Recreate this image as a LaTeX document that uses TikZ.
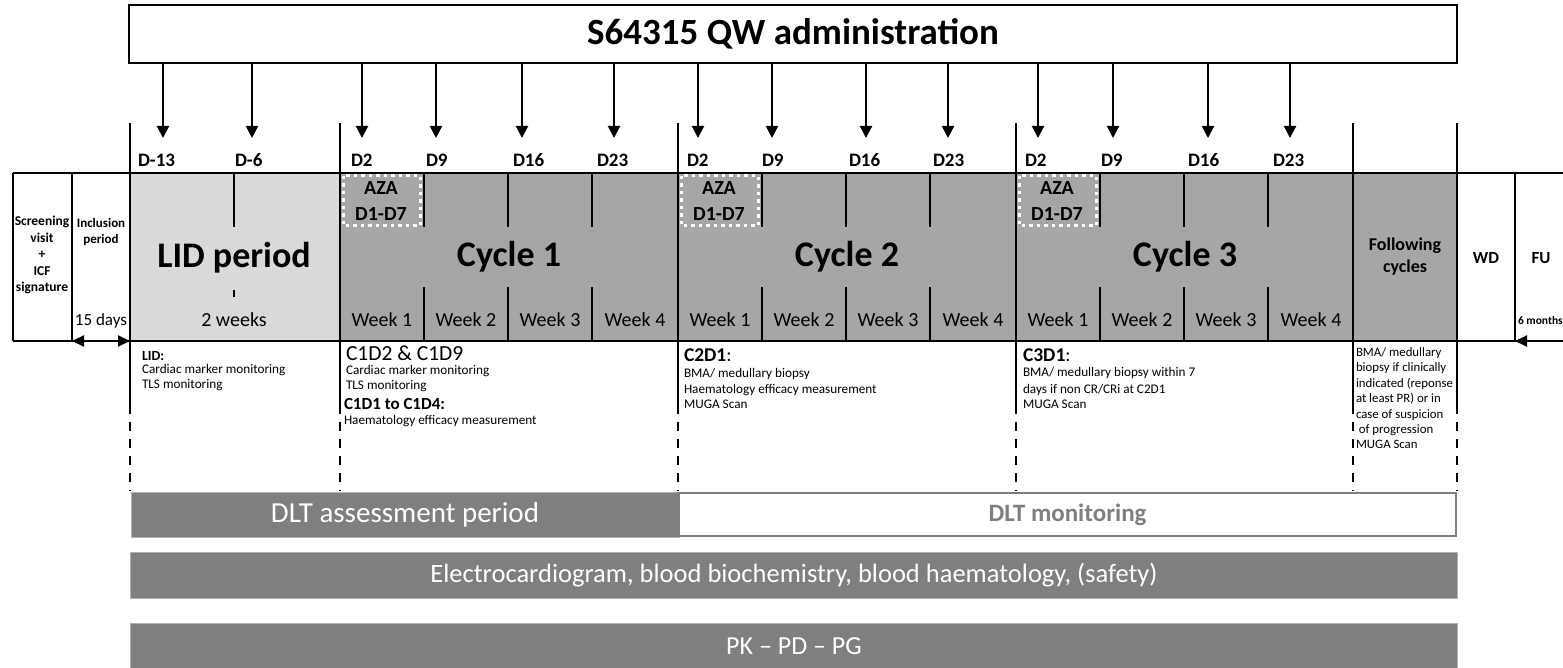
\documentclass[tikz,border=0pt]{standalone}
\usepackage{fontspec}
\setmainfont{Carlito}
\usetikzlibrary{arrows.meta}
\definecolor{lidgray}{HTML}{D9D9D9}
\definecolor{cycgray}{HTML}{A6A6A6}
\definecolor{bargray}{HTML}{7F7F7F}
\newcommand\fz[2]{\fontsize{#1}{#2}\selectfont}
\begin{document}
\begin{tikzpicture}[x=1pt,y=-1pt,line width=2pt,
  arr/.style={-{Triangle[length=12pt,width=12pt]}},
  darr/.style={{Triangle[length=12pt,width=11pt]}-{Triangle[length=12pt,width=11pt]}},
  dlab/.style={anchor=west,inner sep=0pt,font=\fz{19}{19}\bfseries},
  big/.style={inner sep=0pt,font=\fz{36}{36}\bfseries},
  wk/.style={inner sep=0pt,font=\fz{20}{20}},
  aza/.style={draw=white,line width=3pt,dash pattern=on 3.5pt off 4pt},
  azat/.style={inner sep=0pt,font=\fz{20}{26}\bfseries,align=center},
  ln/.style={anchor=west,inner sep=0pt,text height=9pt,text depth=3pt,font=\fz{13.2}{13.2}},
  hd/.style={anchor=west,inner sep=0pt,text height=13pt,text depth=3pt},
  dsh/.style={dash pattern=on 9pt off 8pt},
  bar/.style={fill=bargray,draw=gray!60,line width=0.8pt,text=white,inner sep=0pt},
  lbl/.style={inner sep=0pt,align=center},
]
\useasboundingbox (0,0) rectangle (1563,668);
\clip (0,0) rectangle (1563,668);

% title box and arrows
\node[draw,line width=2pt,minimum width=1328pt,minimum height=58pt,inner sep=0pt,
  font=\fz{37}{37}\bfseries] (title) at (793,34) {S64315 QW administration};
\foreach \x [count=\i] in {163,252,362,436,522,614,698,772,866,948,1038,1113,1208,1290}{
  \coordinate (t\i) at (\x,138);
  \draw[arr] (title.south -| t\i) -- (t\i);
}
% day labels
\foreach \x/\t [count=\i] in {137/D-13,234/D-6,350/D2,425/D9,512/D16,596/D23,
  686/D2,761/D9,848/D16,932/D23,1024/D2,1100/D9,1187/D16,1272/D23}{
  \node[dlab] (d\i) at (\x,160) {\t};
}

% main row fills
\fill[lidgray] (130,173) rectangle (340,341);
\fill[cycgray] (340,173) rectangle (1457,341);

% cycles
\foreach \s/\c in {340/1,678/2,1016/3}{
  \foreach \k in {84,168,252}{
    \draw (\s+\k,173) -- (\s+\k,227);
    \draw (\s+\k,287) -- (\s+\k,341);
  }
  \draw[aza] (\s+3,176) rectangle (\s+80,226);
  \node[azat] (aza\c) at (\s+41,201) {AZA\\D1-D7};
  \node[big] (cyc\c) at (\s+169,257) {Cycle \c};
  \node[wk] (w\c a) at (\s+42,320) {Week 1};
  \node[wk] (w\c b) at (\s+126,320) {Week 2};
  \node[wk] (w\c c) at (\s+210,320) {Week 3};
  \node[wk] (w\c d) at (\s+295,320) {Week 4};
}

% LID
\draw (234,173) -- (234,227);
\draw[line width=1.5pt] (234,290) -- (234,297);
\node[big] (lid) at (234,258) {LID period};
\node[wk] (lidw) at (234,320) {2 weeks};

% frame lines
\draw (13,173) -- (1563,173);
\draw (13,341) -- (1563,341);
\draw (13,173) -- (13,341);
\draw (72,173) -- (72,341);
\draw (1515,173) -- (1515,341);
\foreach \x in {130,340,678,1016,1353,1457}{
  \draw (\x,123) -- (\x,405);
  \draw[dsh] (\x,405) -- (\x,491);
}

% left boxes
\node[lbl,font=\fz{13.5}{16.5}\bfseries] (scr) at (42,255) {Screening\\visit\\+\\ICF\\signature};
\node[lbl,font=\fz{13}{16}\bfseries] (incl) at (101,232) {Inclusion\\period};
\node[lbl,font=\fz{17}{17}] (days) at (101,321) {15 days};
\coordinate (ia) at (72,341);
\coordinate (ib) at (130,341);
\draw[darr] (ia) -- (ib);

% right boxes
\node[lbl,font=\fz{18}{22}\bfseries] (fol) at (1405,257) {Following\\cycles};
\node[lbl,font=\fz{17}{17}\bfseries] (wd) at (1486,258) {WD};
\node[lbl,font=\fz{17}{17}\bfseries] (fu) at (1541,258) {FU};
\node[anchor=west,inner sep=0pt,font=\fz{11.5}{11.5}\bfseries] (mon) at (1517,321) {6 months};
\coordinate (fa) at (1515,341);
\coordinate (fb) at (1575,341);
\draw[darr] (fa) -- (fb);

% notes
\node[hd,font=\fz{14}{14}\bfseries] (n1) at (141,355) {LID:};
\node[ln] (n2) at (141,370) {Cardiac marker monitoring};
\node[ln] (n3) at (141,385) {TLS monitoring};

\node[hd,font=\fz{21.5}{21.5}] (n4) at (345,355) {C1D2 \& C1D9};
\node[ln] (n5) at (345,371) {Cardiac marker monitoring};
\node[ln] (n6) at (345,386) {TLS monitoring};
\node[hd,font=\fz{17}{17}\bfseries] (n7) at (343,404) {C1D1 to C1D4:};
\node[ln] (n8) at (343,421) {Haematology efficacy measurement};

\node[hd,font=\fz{19.5}{19.5}] (n9) at (683,356) {\textbf{C2D1}:};
\node[ln] (n10) at (683,374) {BMA/ medullary biopsy};
\node[ln] (n11) at (683,390) {Haematology efficacy measurement};
\node[ln] (n12) at (683,405) {MUGA Scan};

\node[hd,font=\fz{19.5}{19.5}] (n13) at (1022,356) {\textbf{C3D1}:};
\node[ln] (n14) at (1022,373) {BMA/ medullary biopsy within 7};
\node[ln] (n15) at (1022,390) {days if non CR/CRi at C2D1};
\node[ln] (n16) at (1022,405) {MUGA Scan};

\foreach \t/\y [count=\i] in {{BMA/ medullary}/353,{biopsy if clinically}/368,{indicated (reponse}/384,
  {at least PR) or in}/399,{case of suspicion}/415,{\ of progression}/430,{MUGA Scan}/445}{
  \node[ln,font=\fz{12.8}{12.8}] (f\i) at (1355,\y) {\t};
}

% bottom bars
\node[bar,minimum width=548pt,minimum height=45pt,font=\fz{29}{29}] (dlta) at (405,514.5) {DLT assessment period};
\node[draw=bargray,line width=2.5pt,fill=white,minimum width=777pt,minimum height=43pt,
  inner sep=0pt,text=bargray,font=\fz{25}{25}\bfseries] (dltm) at (1067.5,514.5) {DLT monitoring};
\node[bar,minimum width=1327pt,minimum height=46pt,font=\fz{26.5}{26.5}] (ecg) at (794,575) {Electrocardiogram, blood biochemistry, blood haematology, (safety)};
\node[bar,minimum width=1327pt,minimum height=46pt,font=\fz{26}{26}] (pk) at (794,646) {PK – PD – PG};
\end{tikzpicture}
\end{document}
